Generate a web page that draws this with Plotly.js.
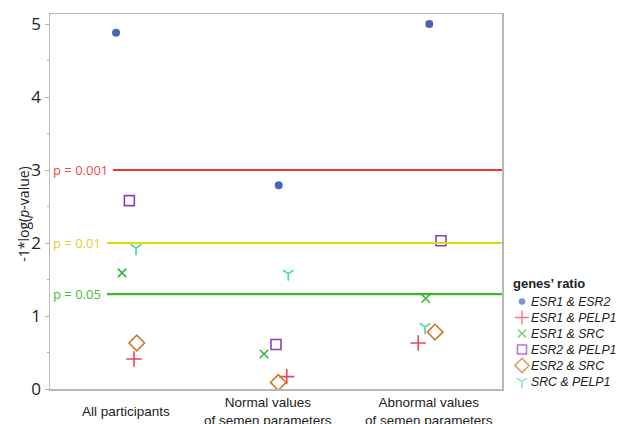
<!DOCTYPE html>
<html>
<head>
<meta charset="utf-8">
<script src="https://cdn.plot.ly/plotly-3.0.1.min.js"></script>
<style>html,body{margin:0;padding:0;background:#fff;}#chart{width:622px;height:424px;}</style>
</head>
<body>
<div id="chart"></div>
<script>
// Categories (x positions of the group labels, in axis units)
var categories = ["All participants", "Normal values<br>of semen parameters", "Abnormal values<br>of semen parameters"];
var categoryPos = [0, 0.937, 2];

// Series: -1*log(p-value) per group, and the jittered x position
var seriesNames = ["ESR1 & ESR2", "ESR1 & PELP1", "ESR1 & SRC", "ESR2 & PELP1", "ESR2 & SRC", "SRC & PELP1"];
var esr1Esr2   = [4.88, 2.79, 5.00];
var esr1Pelp1  = [0.41, 0.17, 0.63];
var esr1Src    = [1.59, 0.48, 1.24];
var esr2Pelp1  = [2.58, 0.61, 2.03];
var esr2Src    = [0.63, 0.09, 0.78];
var srcPelp1   = [1.93, 1.58, 0.85];

var esr1Esr2X  = [-0.066, 1.008, 2.002];
var esr1Pelp1X = [0.053, 1.061, 1.929];
var esr1SrcX   = [-0.026, 0.911, 1.978];
var esr2Pelp1X = [0.022, 0.990, 2.079];
var esr2SrcX   = [0.071, 1.005, 2.040];
var srcPelp1X  = [0.066, 1.071, 1.974];

// Significance thresholds
var thresholdLabels = ["p = 0.001", "p = 0.01", "p = 0.05"];
var thresholdValues = [3, 2, 1.30103];
var legendTitle = "genes’ ratio";

// ---- styles ----
var colors = ["#4a65b8", "#e8445a", "#2fb83c", "#8e3cc4", "#d2762a", "#44d6a4"];
var lineColors = ["#ee3535", "#e2d90c", "#36bb26"];
var textColors = ["#f04a4a", "#e0d424", "#44c038"];
var lineStart = [0.139, 0.126, 0.126];
var symbols = ["circle", "cross-thin", "x-thin", "square-open", "diamond-open", "y-down"];
var sizes = [8, 11, 8.5, 10, 12, 9];
var legendSizes = [6.5, 10, 8, 9, 11, 8.5];
var legendWidths = [0, 1.4, 1.4, 1.6, 1.6, 1.4];

var ys = [esr1Esr2, esr1Pelp1, esr1Src, esr2Pelp1, esr2Src, srcPelp1];
var xs = [esr1Esr2X, esr1Pelp1X, esr1SrcX, esr2Pelp1X, esr2SrcX, srcPelp1X];

var traces = seriesNames.map(function(n, i) {
  return {
    type: "scatter", mode: "markers", name: n, xaxis: "x", yaxis: "y",
    x: xs[i], y: ys[i], cliponaxis: false, showlegend: false,
    marker: {symbol: symbols[i], size: sizes[i], color: colors[i],
             line: {color: colors[i], width: i === 0 ? 0 : 1.6}}
  };
});

// Key (legend) drawn in the right-hand panel; axis units there equal pixels
var keyX = 522, keyTextX = 529, keyTitleX = 511, keyTitleY = 283, keyRow0 = 301.5, keyStep = 16;
var keyRows = seriesNames.map(function(n, i) { return keyRow0 + i * keyStep; });
traces.push({
  type: "scatter", mode: "markers", xaxis: "x2", yaxis: "y2", showlegend: false, cliponaxis: false,
  x: seriesNames.map(function() { return keyX; }), y: keyRows,
  marker: {symbol: symbols, size: legendSizes, color: colors, line: {color: colors, width: legendWidths}}
});

var shapes = thresholdValues.map(function(v, i) {
  return {type: "line", xref: "x domain", yref: "y", x0: lineStart[i], x1: 1, y0: v, y1: v,
          line: {color: lineColors[i], width: 2.2}};
});

var annotations = thresholdValues.map(function(v, i) {
  return {xref: "x domain", yref: "y", x: 0, y: v, xanchor: "left", yanchor: "middle", xshift: 1,
          text: thresholdLabels[i], showarrow: false,
          font: {family: "Open Sans", size: 13, color: textColors[i]}};
});
categories.forEach(function(c, i) {
  annotations.push({xref: "x", yref: "y domain", x: categoryPos[i], y: -0.0587, xanchor: "center", yanchor: "middle",
    text: c, showarrow: false, font: {family: "Liberation Sans, Arial", size: 13.5, color: "#222"}});
});
annotations.push({xref: "x domain", yref: "y domain", x: -0.058, y: 0.467, xanchor: "center", yanchor: "middle",
  textangle: -90, text: "-1*log(<i>p</i>-value)", showarrow: false,
  font: {family: "Open Sans", size: 14, color: "#222"}});
annotations.push({xref: "x2", yref: "y2", x: keyTitleX, y: keyTitleY, xanchor: "left", yanchor: "middle",
  text: "<b>" + legendTitle + "</b>", showarrow: false,
  font: {family: "Liberation Sans, Arial", size: 13, color: "#222"}});
seriesNames.forEach(function(n, i) {
  annotations.push({xref: "x2", yref: "y2", x: keyTextX, y: keyRows[i], xanchor: "left", yanchor: "middle",
    text: "<i>" + n + "</i>", showarrow: false,
    font: {family: "Liberation Sans, Arial", size: 12.3, color: "#222"}});
});

var layout = {
  width: 622, height: 424,
  margin: {l: 50, r: 0, t: 14, b: 35},
  paper_bgcolor: "#fff", plot_bgcolor: "rgba(0,0,0,0)",
  showlegend: false,
  xaxis: {domain: [0, 452 / 572], range: [-0.502, 2.482], showgrid: false, zeroline: false, showticklabels: false,
          showline: true, mirror: true, linecolor: "#b8b8b8", linewidth: 1.5, ticks: "", anchor: "y"},
  yaxis: {range: [0, 5.137], showgrid: false, zeroline: false, tickvals: [0, 1, 2, 3, 4, 5], anchor: "x",
          ticks: "outside", ticklen: 4, tickcolor: "#b0b0b0", tickwidth: 1,
          minor: {dtick: 0.5, ticks: "outside", ticklen: 2, tickcolor: "#b0b0b0"},
          showline: true, mirror: true, linecolor: "#b8b8b8", linewidth: 1.5,
          tickfont: {family: "Open Sans", size: 17, color: "#222"}},
  xaxis2: {domain: [452 / 572, 1], range: [502, 622], visible: false, anchor: "y2", fixedrange: true},
  yaxis2: {domain: [0, 1], range: [389, 14], visible: false, anchor: "x2", fixedrange: true},
  shapes: shapes,
  annotations: annotations
};

Plotly.newPlot("chart", traces, layout, {displayModeBar: false, staticPlot: true});
</script>
</body>
</html>
